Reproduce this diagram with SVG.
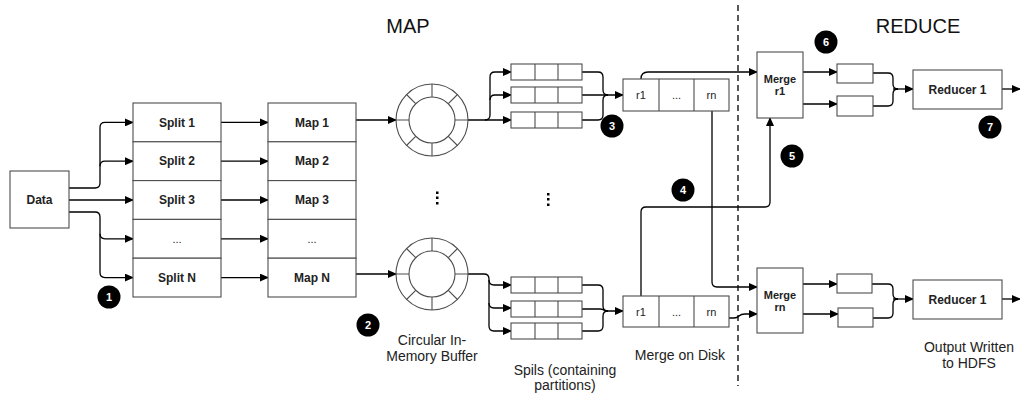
<svg xmlns="http://www.w3.org/2000/svg" width="1020" height="397" viewBox="0 0 1020 397">
<style>
.box{fill:#fff;stroke:#4d4d4d;stroke-width:1.1}
.lbl{font-family:"Liberation Sans",Arial,sans-serif;font-size:12px;font-weight:bold;fill:#222;text-anchor:middle}
.cell{font-family:"Liberation Sans",Arial,sans-serif;font-size:11px;fill:#222;text-anchor:middle}
.cap{font-family:"Liberation Sans",Arial,sans-serif;font-size:14px;fill:#222;text-anchor:middle}
.title{font-family:"Liberation Sans",Arial,sans-serif;font-size:20px;fill:#111;text-anchor:middle}
.conn path{fill:none;stroke:#000;stroke-width:1.3}
.arr{marker-end:url(#ah)}
.badge circle{fill:#000}
.badge text{font-family:"Liberation Sans",Arial,sans-serif;font-size:11px;font-weight:bold;fill:#fff;text-anchor:middle}
.ring{fill:#fff;stroke:#4d4d4d;stroke-width:1.1}
.spoke{stroke:#4d4d4d;stroke-width:1.1}
</style>
<defs>
<marker id="ah" markerWidth="9" markerHeight="8" refX="8" refY="4" orient="auto" markerUnits="userSpaceOnUse">
<path d="M0,0 L9,4 L0,8 Z" fill="#000"/>
</marker>
<g id="buf">
<circle class="ring" r="36"/>
<circle class="ring" r="23"/>
<path class="spoke" d="M23,0H36M-23,0H-36M0,23V36M0,-23V-36M16.3,16.3L25.5,25.5M-16.3,16.3L-25.5,25.5M16.3,-16.3L25.5,-25.5M-16.3,-16.3L-25.5,-25.5"/>
</g>
<g id="spill">
<rect class="box" x="0" y="0" width="71" height="16"/>
<path class="spoke" d="M24,0V16M47,0V16"/>
</g>
</defs>
<rect width="1020" height="397" fill="#fff"/>

<text class="title" x="408" y="33">MAP</text>
<text class="title" x="918" y="33">REDUCE</text>
<line x1="738" y1="5" x2="738" y2="386" stroke="#222" stroke-width="1.5" stroke-dasharray="6,4"/>

<g class="conn">
<path class="arr" d="M69,188H95Q100,188 100,183V127.4Q100,122.4 105,122.4H133"/>
<path class="arr" d="M100,166.2Q100,161.2 105,161.2H133"/>
<path class="arr" d="M69,200H133"/>
<path class="arr" d="M69,212H95Q100,212 100,217V272.6Q100,277.6 105,277.6H133"/>
<path class="arr" d="M100,233.8Q100,238.8 105,238.8H133"/>
<path class="arr" d="M221,122.4H268"/>
<path class="arr" d="M221,161.2H268"/>
<path class="arr" d="M221,200H268"/>
<path class="arr" d="M221,238.8H268"/>
<path class="arr" d="M221,277.6H268"/>
<path class="arr" d="M356,120H396"/>
<path class="arr" d="M356,274H396"/>
<path class="arr" d="M468,120H511"/>
<path class="arr" d="M485,120Q490,120 490,115V77Q490,72 495,72H511"/>
<path class="arr" d="M490,100Q490,95 495,95H511"/>
<path d="M582,72H598Q603,72 603,77V90Q603,95 608,95"/>
<path class="arr" d="M582,95H623"/>
<path d="M582,120H598Q603,120 603,115V100Q603,95 608,95"/>
<path class="arr" d="M468,274H484Q489,274 489,279V326Q489,331 494,331H511"/>
<path class="arr" d="M489,280Q489,285 494,285H511"/>
<path class="arr" d="M489,303Q489,308 494,308H511"/>
<path d="M582,285H598Q603,285 603,290V306Q603,311 608,311"/>
<path class="arr" d="M582,309H600Q603,309 606,311H623"/>
<path d="M582,331H598Q603,331 603,326V316Q603,311 608,311"/>
<path class="arr" d="M641,79Q641,72 648,72H757"/>
<path class="arr" d="M712,111V282Q712,287 717,287H757"/>
<path class="arr" d="M641,296V212Q641,207 646,207H765Q770,207 770,202V118"/>
<path class="arr" d="M729,318H734Q737,318 739,316Q741,314 745,314H757"/>
<path class="arr" d="M803,72H837"/>
<path class="arr" d="M803,104H837"/>
<path d="M873,73H888Q893,73 893,78V84Q893,89 898,89"/>
<path d="M873,106H888Q893,106 893,101V94Q893,89 898,89"/>
<path class="arr" d="M893,89H913"/>
<path class="arr" d="M1002,89H1020"/>
<path class="arr" d="M803,284H837"/>
<path class="arr" d="M803,314H838"/>
<path d="M872,284H888Q893,284 893,289V294Q893,299 898,299"/>
<path d="M873,318H888Q893,318 893,313V304Q893,299 898,299"/>
<path class="arr" d="M893,299H913"/>
<path class="arr" d="M1002,299H1020"/>
</g>

<g id="data"><rect class="box" x="10" y="171" width="59" height="57"/><text class="lbl" x="39.5" y="204">Data</text></g>

<g id="split1"><rect class="box" x="133" y="103" width="88" height="38.8"/><text class="lbl" x="177" y="126.5">Split 1</text></g>
<g id="split2"><rect class="box" x="133" y="141.8" width="88" height="38.8"/><text class="lbl" x="177" y="165.3">Split 2</text></g>
<g id="split3"><rect class="box" x="133" y="180.6" width="88" height="38.8"/><text class="lbl" x="177" y="204.1">Split 3</text></g>
<g id="splitdots"><rect class="box" x="133" y="219.4" width="88" height="38.8"/><text class="cell" x="177" y="242.9">...</text></g>
<g id="splitN"><rect class="box" x="133" y="258.2" width="88" height="38.8"/><text class="lbl" x="177" y="281.7">Split N</text></g>

<g id="map1"><rect class="box" x="268" y="103" width="88" height="38.8"/><text class="lbl" x="312" y="126.5">Map 1</text></g>
<g id="map2"><rect class="box" x="268" y="141.8" width="88" height="38.8"/><text class="lbl" x="312" y="165.3">Map 2</text></g>
<g id="map3"><rect class="box" x="268" y="180.6" width="88" height="38.8"/><text class="lbl" x="312" y="204.1">Map 3</text></g>
<g id="mapdots"><rect class="box" x="268" y="219.4" width="88" height="38.8"/><text class="cell" x="312" y="242.9">...</text></g>
<g id="mapN"><rect class="box" x="268" y="258.2" width="88" height="38.8"/><text class="lbl" x="312" y="281.7">Map N</text></g>

<g id="buffer1"><use href="#buf" x="432" y="120"/></g>
<g id="buffer2"><use href="#buf" x="432" y="274"/></g>

<g id="vdots" fill="#000">
<rect x="436" y="191.5" width="2.5" height="2.5"/><rect x="436" y="196.5" width="2.5" height="2.5"/><rect x="436" y="202" width="2.5" height="2.5"/>
<rect x="547" y="193" width="2.5" height="2.5"/><rect x="547" y="198" width="2.5" height="2.5"/><rect x="547" y="203.5" width="2.5" height="2.5"/>
</g>

<g id="spills1">
<use href="#spill" x="511" y="64"/><use href="#spill" x="511" y="87"/><use href="#spill" x="511" y="112"/>
</g>
<g id="spills2">
<use href="#spill" x="511" y="277"/><use href="#spill" x="511" y="301"/><use href="#spill" x="511" y="323"/>
</g>

<g id="mergedisk1">
<rect class="box" x="623" y="79" width="106" height="32"/>
<path class="spoke" d="M659,79V111M694,79V111"/>
<text class="cell" x="641" y="99">r1</text><text class="cell" x="676.5" y="99">...</text><text class="cell" x="711.5" y="99">rn</text>
</g>
<g id="mergedisk2">
<rect class="box" x="623" y="296" width="106" height="31"/>
<path class="spoke" d="M659,296V327M694,296V327"/>
<text class="cell" x="641" y="315.5">r1</text><text class="cell" x="676.5" y="315.5">...</text><text class="cell" x="711.5" y="315.5">rn</text>
</g>

<g id="merger1"><rect class="box" x="757" y="52" width="46" height="66"/><text class="lbl" style="font-size:11px" x="780" y="83">Merge</text><text class="lbl" style="font-size:11px" x="780" y="95">r1</text></g>
<g id="mergern"><rect class="box" x="757" y="268" width="46" height="65"/><text class="lbl" style="font-size:11px" x="780" y="299">Merge</text><text class="lbl" style="font-size:11px" x="780" y="311">rn</text></g>

<g id="sort1a"><rect class="box" x="837" y="64" width="36" height="19"/></g>
<g id="sort1b"><rect class="box" x="837" y="96" width="36" height="20"/></g>
<g id="sortna"><rect class="box" x="837" y="274" width="35" height="19"/></g>
<g id="sortnb"><rect class="box" x="838" y="308" width="35" height="19"/></g>

<g id="reducer1"><rect class="box" x="913" y="70" width="89" height="39"/><text class="lbl" x="957.5" y="93.5">Reducer 1</text></g>
<g id="reducer2"><rect class="box" x="913" y="280" width="89" height="39"/><text class="lbl" x="957.5" y="303.5">Reducer 1</text></g>

<g id="captions">
<text class="cap" x="432" y="345">Circular In-</text>
<text class="cap" x="432" y="361">Memory Buffer</text>
<text class="cap" x="565" y="375">Spils (containing</text>
<text class="cap" x="565" y="390">partitions)</text>
<text class="cap" x="680" y="360">Merge on Disk</text>
<text class="cap" x="969" y="352">Output Written</text>
<text class="cap" x="969" y="368">to HDFS</text>
</g>

<g class="badge">
<g id="b1"><circle cx="109" cy="297" r="11.5"/><text x="109" y="301">1</text></g>
<g id="b2"><circle cx="368" cy="325" r="11.5"/><text x="368" y="329">2</text></g>
<g id="b3"><circle cx="612" cy="126" r="11.5"/><text x="612" y="130">3</text></g>
<g id="b4"><circle cx="683" cy="190" r="11.5"/><text x="683" y="194">4</text></g>
<g id="b5"><circle cx="792" cy="156" r="11.5"/><text x="792" y="160">5</text></g>
<g id="b6"><circle cx="826" cy="42" r="11.5"/><text x="826" y="46">6</text></g>
<g id="b7"><circle cx="990" cy="127" r="11.5"/><text x="990" y="131">7</text></g>
</g>
</svg>
